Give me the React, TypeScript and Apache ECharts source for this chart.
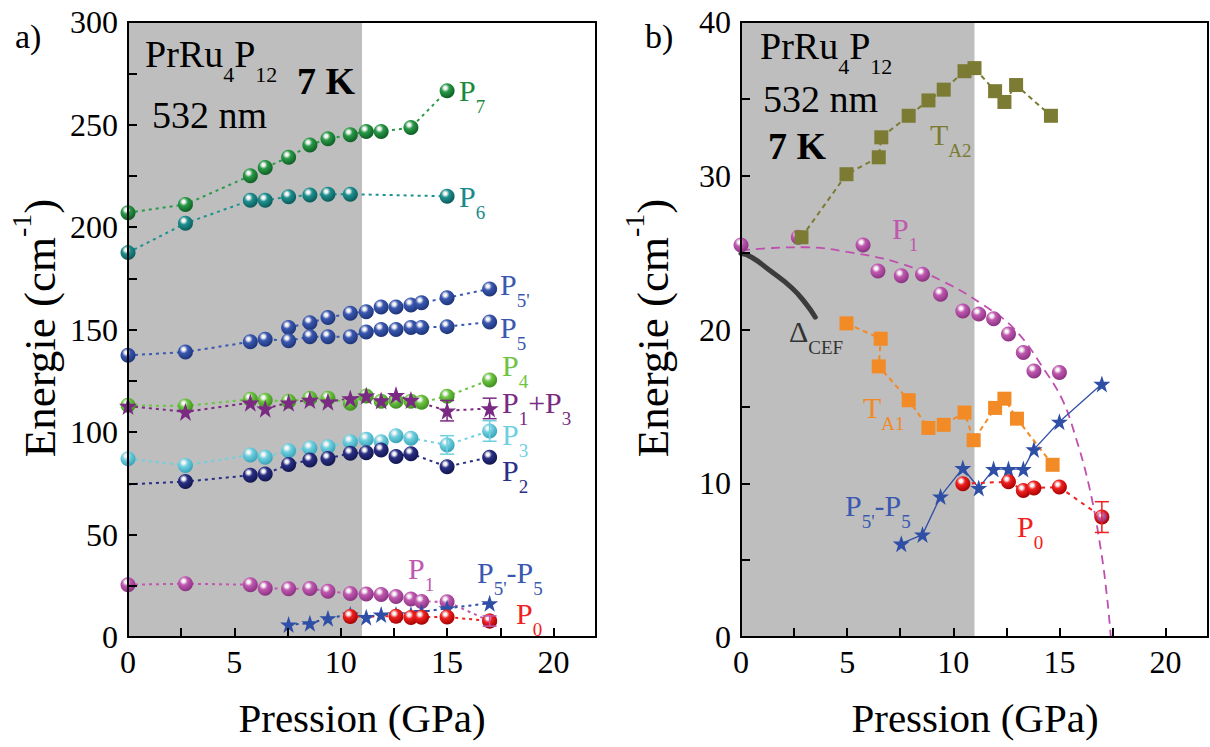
import React, { useEffect, useRef } from "react";
import * as echarts from "echarts";

// ---------------- DATA ----------------
// pressures (GPa) of the main P-series run
const pAll = [0, 2.7, 5.75, 6.45, 7.55, 8.55, 9.4, 10.45, 11.2, 11.9, 12.6, 13.3, 13.8, 15.0, 17.0];

const p7P = [0, 2.7, 5.75, 6.45, 7.55, 8.55, 9.4, 10.45, 11.2, 11.9, 13.3, 15.0];
const p7V = [207, 211, 225, 229, 234, 240, 243, 245, 246.6, 246.6, 248.5, 266.5];

const p6P = [0, 2.7, 5.75, 6.45, 7.55, 8.55, 9.4, 10.45, 15.0];
const p6V = [187.5, 201.8, 213, 213, 214.8, 215.6, 216, 216, 215];

const p5pP = [7.55, 8.55, 9.4, 10.45, 11.2, 11.9, 12.6, 13.3, 13.8, 15.0, 17.0];
const p5pV = [151, 153.3, 155.8, 157.9, 158.7, 161, 161, 162, 163, 165.5, 169.8];

const p5V = [137.4, 139, 144, 145.2, 144.5, 146.5, 146.5, 146.5, 148.8, 150, 150, 151, 151, 151.4, 153.7];

const p4V = [113, 112.7, 116, 115.5, 115, 116.5, 116.5, 114, 117.6, 115, 115, 115, 114.5, 117.4, 125.4];

const p13P = [0, 2.7, 5.75, 6.45, 7.55, 8.55, 9.4, 10.45, 11.2, 11.9, 12.6, 13.3, 15.0, 17.0];
const p13V = [112.7, 109.8, 114.3, 111.4, 114.3, 115.6, 114.8, 116.4, 117.7, 115.4, 118, 115.6, 110.4, 111.5];
const p13Err = [0, 0, 0, 0, 0, 0, 0, 0, 0, 0, 0, 0, 5, 5];

const p3P = [0, 2.7, 5.75, 6.45, 7.55, 8.55, 9.4, 10.45, 11.2, 11.9, 12.6, 13.3, 15.0, 17.0];
const p3V = [87, 83.7, 88.8, 87.7, 90.9, 92.2, 92.8, 95.3, 96.5, 95.3, 98.2, 97, 93.7, 100.5];
const p3Err = [0, 0, 0, 0, 0, 0, 0, 0, 0, 0, 0, 0, 4.5, 5];

const p2P = [0, 2.7, 5.75, 6.45, 7.55, 8.55, 9.4, 10.45, 11.2, 11.9, 12.6, 13.3, 15.0, 17.0];
const p2V = [74.5, 75.8, 78.9, 79.5, 84.2, 86.3, 87.1, 89.6, 89.9, 91.2, 88, 89.4, 83.1, 87.7];

const p1V = [25.5, 26.0, 25.5, 23.8, 23.5, 23.6, 22.3, 21.2, 21.0, 20.7, 19.7, 18.5, 17.3, 17.2, 7.8];

const dP = [7.55, 8.55, 9.4, 10.45, 11.2, 11.9, 12.6, 13.3, 13.8, 15.0, 17.0];
const dV = [6.07, 6.66, 9.14, 10.99, 9.69, 10.92, 10.92, 10.92, 12.2, 14.0, 16.46];

const p0P = [10.45, 12.6, 13.3, 13.8, 15.0, 17.0];
const p0V = [9.97, 10.1, 9.53, 9.69, 9.75, 7.8];
const p0ErrL = [0, 0, 0, 0, 0, 2.5];
const p0ErrR = [0, 0, 0, 0, 0, 1.0];

const ta2P = [2.85, 4.97, 6.49, 6.61, 7.9, 8.83, 9.55, 10.53, 11.0, 11.97, 12.41, 12.96, 14.6];
const ta2V = [26.0, 30.1, 31.2, 32.5, 33.9, 34.9, 35.6, 36.8, 37.0, 35.5, 34.8, 35.9, 33.9];

const ta1P = [4.97, 6.58, 6.49, 7.9, 8.83, 9.55, 10.53, 10.96, 11.97, 12.41, 13.0, 14.68];
const ta1V = [20.4, 19.4, 17.6, 15.4, 13.6, 13.8, 14.6, 12.8, 14.9, 15.5, 14.2, 11.2];

const cefP = [0, 0.5, 1.3, 2.4, 3.1, 3.5];
const cefV = [24.95, 24.7, 23.9, 22.7, 21.6, 20.8];

const fitP = [0, 1.5, 3, 5, 7.5, 9.7, 11.3, 12.9, 14.4, 15.15, 15.7, 16.4, 16.95, 17.26, 17.42];
const fitV = [25.15, 25.3, 25.35, 25.05, 24.3, 23.0, 21.7, 20.0, 17.15, 15.4, 13.3, 9.8, 5.7, 2.4, 0];

const shadeEnd = 11;
const xTicks = { min: 0, max: 22, interval: 5 };
const yLeft = { min: 0, max: 300, interval: 50 };
const yRight = { min: 0, max: 40, interval: 10 };

// ---------------- HELPERS ----------------
const FONT = "'Liberation Serif', 'Times New Roman', serif";
const zip = (xs: number[], ys: number[]) => xs.map((x, i) => [x, ys[i]]);
const zip3 = (xs: number[], ys: number[], es: number[]) =>
  xs.map((x, i) => [x, ys[i], es[i]]).filter((d) => d[2] > 0);

const sphere = (base: string, dark: string) =>
  new echarts.graphic.RadialGradient(0.38, 0.32, 0.72, [
    { offset: 0, color: "#ffffff" },
    { offset: 0.14, color: "#f2f2f2" },
    { offset: 0.38, color: base },
    { offset: 1, color: dark },
  ]);

const STAR =
  "path://M50,0 L61.8,35.1 L98.9,35.1 L69.1,57.3 L80.2,92.7 L50,71 L19.8,92.7 L30.9,57.3 L1.1,35.1 L38.2,35.1 Z";

let measureCtx: CanvasRenderingContext2D | null = null;
const tw = (t: string, size: number, bold: boolean) => {
  if (!measureCtx) measureCtx = document.createElement("canvas").getContext("2d");
  if (!measureCtx) return t.length * size * 0.5;
  measureCtx.font = `${bold ? "bold " : ""}${size}px ${FONT}`;
  return measureCtx.measureText(t).width;
};

type Part = [string, string];
const lab = (
  x: number,
  y: number,
  color: string,
  parts: Part[],
  size = 30,
  opts: { center?: boolean; rot?: number; sub?: number } = {}
) => {
  let cx = 0;
  const children: any[] = [];
  const subR = opts.sub || 0.62;
  for (const [t, k] of parts) {
    const small = k === "s" || k === "p";
    const s = small ? Math.round(size * subR) : size;
    const dy = k === "s" ? size * 0.55 : k === "p" ? -size * 0.42 : 0;
    const bold = k === "b";
    children.push({
      type: "text",
      x: cx,
      y: dy,
      z: 100,
      style: {
        text: t,
        fontSize: s,
        fontFamily: FONT,
        fontWeight: bold ? "bold" : "normal",
        fill: color,
        align: "left",
        verticalAlign: "middle",
      },
    });
    cx += tw(t, s, bold);
  }
  if (opts.center) children.forEach((c) => (c.x -= cx / 2));
  return { type: "group", x, y, rotation: opts.rot || 0, children, z: 100, silent: true };
};

const dotted = (color: string) => ({ color, width: 2, type: [3, 4] as any });

const ballSeries = (
  name: string,
  data: any[],
  base: string,
  dark: string,
  xi: number,
  line: any,
  size = 15
) => ({
  name,
  type: "line",
  xAxisIndex: xi,
  yAxisIndex: xi,
  data,
  symbol: "circle",
  symbolSize: size,
  showSymbol: true,
  itemStyle: { color: sphere(base, dark), borderWidth: 0 },
  lineStyle: line,
  silent: true,
  z: 3,
});

const errSeries = (data: any[], color: string, xi: number) => ({
  type: "custom",
  xAxisIndex: xi,
  yAxisIndex: xi,
  data,
  silent: true,
  z: 4,
  renderItem: (_p: any, api: any) => {
    const x = api.value(0), y = api.value(1), e = api.value(2);
    const t = api.coord([x, y + e]);
    const b = api.coord([x, y - e]);
    const w = 7;
    const st = { stroke: color, lineWidth: 1.5 };
    return {
      type: "group",
      children: [
        { type: "line", shape: { x1: t[0], y1: t[1], x2: b[0], y2: b[1] }, style: st },
        { type: "line", shape: { x1: t[0] - w, y1: t[1], x2: t[0] + w, y2: t[1] }, style: st },
        { type: "line", shape: { x1: b[0] - w, y1: b[1], x2: b[0] + w, y2: b[1] }, style: st },
      ],
    };
  },
});

const TICKFS = 32;
const xAxisBottom = (gridIndex: number) => ({
  type: "value",
  gridIndex,
  ...xTicks,
  position: "bottom",
  axisLine: { show: true, onZero: false, lineStyle: { color: "#000", width: 2 } },
  axisTick: { show: true, inside: true, length: 9, lineStyle: { color: "#000", width: 2 } },
  minorTick: { show: true, splitNumber: 2, length: 9, lineStyle: { color: "#000", width: 2 } },
  axisLabel: { color: "#000", fontSize: TICKFS, fontFamily: FONT, margin: 9, showMaxLabel: false },
  splitLine: { show: false },
  minorSplitLine: { show: false },
  z: 5,
});
const xAxisTop = (gridIndex: number) => ({
  type: "value",
  gridIndex,
  ...xTicks,
  position: "top",
  axisLine: { show: true, onZero: false, lineStyle: { color: "#000", width: 2 } },
  axisTick: { show: false },
  axisLabel: { show: false },
  splitLine: { show: false },
  z: 5,
});
const yAxisLeft = (gridIndex: number, rng: any) => ({
  type: "value",
  gridIndex,
  ...rng,
  position: "left",
  axisLine: { show: true, onZero: false, lineStyle: { color: "#000", width: 2 } },
  axisTick: { show: true, inside: true, length: 9, lineStyle: { color: "#000", width: 2 } },
  minorTick: { show: true, splitNumber: 2, length: 9, lineStyle: { color: "#000", width: 2 } },
  axisLabel: { color: "#000", fontSize: TICKFS, fontFamily: FONT, margin: 10 },
  splitLine: { show: false },
  minorSplitLine: { show: false },
  z: 5,
});
const yAxisRight = (gridIndex: number, rng: any) => ({
  type: "value",
  gridIndex,
  ...rng,
  position: "right",
  axisLine: { show: true, onZero: false, lineStyle: { color: "#000", width: 2 } },
  axisTick: { show: false },
  axisLabel: { show: false },
  splitLine: { show: false },
  z: 5,
});

const shadeSeries = (xi: number) => ({
  type: "line",
  xAxisIndex: xi,
  yAxisIndex: xi,
  data: [],
  silent: true,
  z: 1,
  markArea: {
    silent: true,
    itemStyle: { color: "#bebebe", opacity: 1 },
    data: [[{ xAxis: 0 }, { xAxis: shadeEnd }]],
  },
});

// colours
const C = {
  p7: ["#2a9a48", "#0b5a22"],
  p6: ["#1f9090", "#0b5656"],
  p5: ["#3a58b0", "#1c3275"],
  p4: ["#6cc440", "#3d8a1e"],
  p3: ["#6fd0e0", "#35a0b5"],
  p2: ["#2a2f85", "#10144a"],
  p1: ["#c058b0", "#86307e"],
  p0: ["#f02020", "#a00000"],
};
const PURPLE = "#7a2a82";
const STARBLUE = "#2f4fa6";
const OLIVE = "#7b7b33";
const ORANGE = "#f28a26";

export default function App() {
  const ref = useRef<HTMLDivElement>(null);
  useEffect(() => {
    if (!ref.current) return;
    const chart = echarts.init(ref.current, undefined, { renderer: "svg" });

    const p2Data: any[] = zip(p2P, p2V).map((d, i) => (i === 0 ? { value: d, symbol: "none" } : d));
    const p1RightData: any[] = zip(pAll, p1V).map((d, i) =>
      i === pAll.length - 1 ? { value: d, symbolSize: 10 } : d
    );

    const series: any[] = [
      // ---- left panel ----
      shadeSeries(0),
      ballSeries("P7", zip(p7P, p7V), C.p7[0], C.p7[1], 0, dotted(C.p7[0])),
      ballSeries("P6", zip(p6P, p6V), C.p6[0], C.p6[1], 0, dotted(C.p6[0])),
      ballSeries("P5'", zip(p5pP, p5pV), C.p5[0], C.p5[1], 0, dotted(C.p5[0])),
      ballSeries("P5", zip(pAll, p5V), C.p5[0], C.p5[1], 0, dotted(C.p5[0])),
      ballSeries("P4", zip(pAll, p4V), C.p4[0], C.p4[1], 0, dotted(C.p4[0])),
      {
        name: "P1+P3",
        type: "line",
        xAxisIndex: 0,
        yAxisIndex: 0,
        data: zip(p13P, p13V),
        symbol: STAR,
        symbolSize: 18,
        itemStyle: { color: PURPLE },
        lineStyle: dotted(PURPLE),
        silent: true,
        z: 3,
      },
      ballSeries("P3", zip(p3P, p3V), C.p3[0], C.p3[1], 0, dotted(C.p3[0])),
      ballSeries("P2", p2Data, C.p2[0], C.p2[1], 0, dotted(C.p2[0])),
      ballSeries("P1", zip(pAll, p1V), C.p1[0], C.p1[1], 0, dotted(C.p1[0])),
      {
        name: "P5'-P5",
        type: "line",
        xAxisIndex: 0,
        yAxisIndex: 0,
        data: zip(dP, dV),
        symbol: STAR,
        symbolSize: 17,
        itemStyle: { color: STARBLUE },
        lineStyle: dotted(STARBLUE),
        silent: true,
        z: 3,
      },
      ballSeries("P0", zip(p0P, p0V), C.p0[0], C.p0[1], 0, dotted(C.p0[0])),
      errSeries(zip3(p13P, p13V, p13Err), PURPLE, 0),
      errSeries(zip3(p3P, p3V, p3Err), C.p3[0], 0),
      errSeries(zip3(p0P, p0V, p0ErrL), C.p1[0], 0),

      // ---- right panel ----
      shadeSeries(1),
      {
        name: "fit",
        type: "line",
        xAxisIndex: 1,
        yAxisIndex: 1,
        data: zip(fitP, fitV),
        smooth: 0.4,
        showSymbol: false,
        symbol: "none",
        lineStyle: { color: "#c04fb0", width: 1.8, type: [9, 6] },
        silent: true,
        z: 2,
      },
      {
        name: "CEF",
        type: "line",
        xAxisIndex: 1,
        yAxisIndex: 1,
        data: zip(cefP, cefV),
        smooth: 0.5,
        showSymbol: false,
        symbol: "none",
        lineStyle: { color: "#3c3c3c", width: 5, cap: "round" },
        silent: true,
        z: 2,
      },
      {
        name: "P5'-P5 R",
        type: "line",
        xAxisIndex: 1,
        yAxisIndex: 1,
        data: zip(dP, dV),
        symbol: STAR,
        symbolSize: 17,
        itemStyle: { color: STARBLUE },
        lineStyle: { color: STARBLUE, width: 1.3 },
        silent: true,
        z: 3,
      },
      ballSeries("P0 R", zip(p0P, p0V), C.p0[0], C.p0[1], 1, { color: C.p0[0], width: 2, type: [4, 5] }),
      ballSeries("P1 R", p1RightData, C.p1[0], C.p1[1], 1, { width: 0, opacity: 0 }),
      {
        name: "TA2",
        type: "line",
        xAxisIndex: 1,
        yAxisIndex: 1,
        data: zip(ta2P, ta2V),
        symbol: "rect",
        symbolSize: 14,
        itemStyle: { color: OLIVE },
        lineStyle: { color: OLIVE, width: 2, type: [5, 4] },
        silent: true,
        z: 3,
      },
      {
        name: "TA1",
        type: "line",
        xAxisIndex: 1,
        yAxisIndex: 1,
        data: zip(ta1P, ta1V),
        symbol: "rect",
        symbolSize: 14,
        itemStyle: { color: ORANGE },
        lineStyle: { color: ORANGE, width: 2, type: [5, 4] },
        silent: true,
        z: 3,
      },
      errSeries(zip3(p0P, p0V, p0ErrR), C.p0[0], 1),
    ];

    const S = 30;
    const elements: any[] = [
      lab(15, 36, "#000", [["a)", "n"]], 34),
      lab(645, 36, "#000", [["b)", "n"]], 34),
      // left panel annotations
      lab(145, 54, "#000", [["PrRu", "n"], ["4", "s"], ["P", "n"], ["12", "s"]], 38, { sub: 0.57 }),
      lab(297, 81, "#000", [["7 K", "b"]], 38),
      lab(152, 115, "#000", [["532 nm", "n"]], 38),
      lab(459, 90, "#1a8a3a", [["P", "n"], ["7", "s"]], S),
      lab(459, 196, "#1a8a8a", [["P", "n"], ["6", "s"]], S),
      lab(500, 284, C.p5[0], [["P", "n"], ["5'", "s"]], S),
      lab(500, 327, C.p5[0], [["P", "n"], ["5", "s"]], S),
      lab(502, 365, C.p4[0], [["P", "n"], ["4", "s"]], S),
      lab(502, 402, PURPLE, [["P", "n"], ["1", "s"], ["+P", "n"], ["3", "s"]], S),
      lab(502, 434, C.p3[0], [["P", "n"], ["3", "s"]], S),
      lab(502, 470, C.p2[0], [["P", "n"], ["2", "s"]], S),
      lab(408, 568, C.p1[0], [["P", "n"], ["1", "s"]], S),
      lab(477, 572, C.p5[0], [["P", "n"], ["5'", "s"], ["-P", "n"], ["5", "s"]], S),
      lab(516, 613, C.p0[0], [["P", "n"], ["0", "s"]], S),
      // right panel annotations
      lab(760, 46, "#000", [["PrRu", "n"], ["4", "s"], ["P", "n"], ["12", "s"]], 38, { sub: 0.57 }),
      lab(763, 99, "#000", [["532 nm", "n"]], 38),
      lab(768, 146, "#000", [["7 K", "b"]], 38),
      lab(930, 134, OLIVE, [["T", "n"], ["A2", "s"]], S),
      lab(892, 228, C.p1[0], [["P", "n"], ["1", "s"]], S),
      lab(789, 331, "#333333", [["Δ", "n"], ["CEF", "s"]], S),
      lab(863, 407, ORANGE, [["T", "n"], ["A1", "s"]], S),
      lab(845, 505, C.p5[0], [["P", "n"], ["5'", "s"], ["-P", "n"], ["5", "s"]], S),
      lab(1017, 526, C.p0[0], [["P", "n"], ["0", "s"]], S),
      // axis titles
      lab(40, 328, "#000", [["Energie (cm", "n"], ["-1", "p"], [")", "n"]], 45, { center: true, rot: Math.PI / 2 }),
      lab(653, 328, "#000", [["Energie (cm", "n"], ["-1", "p"], [")", "n"]], 45, { center: true, rot: Math.PI / 2 }),
      lab(362, 718, "#000", [["Pression (GPa)", "n"]], 41, { center: true }),
      lab(975, 718, "#000", [["Pression (GPa)", "n"]], 41, { center: true }),
    ];

    chart.setOption({
      animation: false,
      backgroundColor: "#ffffff",
      grid: [
        { left: 128, top: 22, width: 468, height: 615 },
        { left: 741, top: 22, width: 467, height: 615 },
      ],
      xAxis: [xAxisBottom(0), xAxisBottom(1), xAxisTop(0), xAxisTop(1)],
      yAxis: [yAxisLeft(0, yLeft), yAxisLeft(1, yRight), yAxisRight(0, yLeft), yAxisRight(1, yRight)],
      series,
      graphic: { elements },
    });
    return () => chart.dispose();
  }, []);
  return (
    <div
      ref={ref}
      style={{ position: "absolute", left: 0, top: 0, width: 1210, height: 747 }}
    />
  );
}
